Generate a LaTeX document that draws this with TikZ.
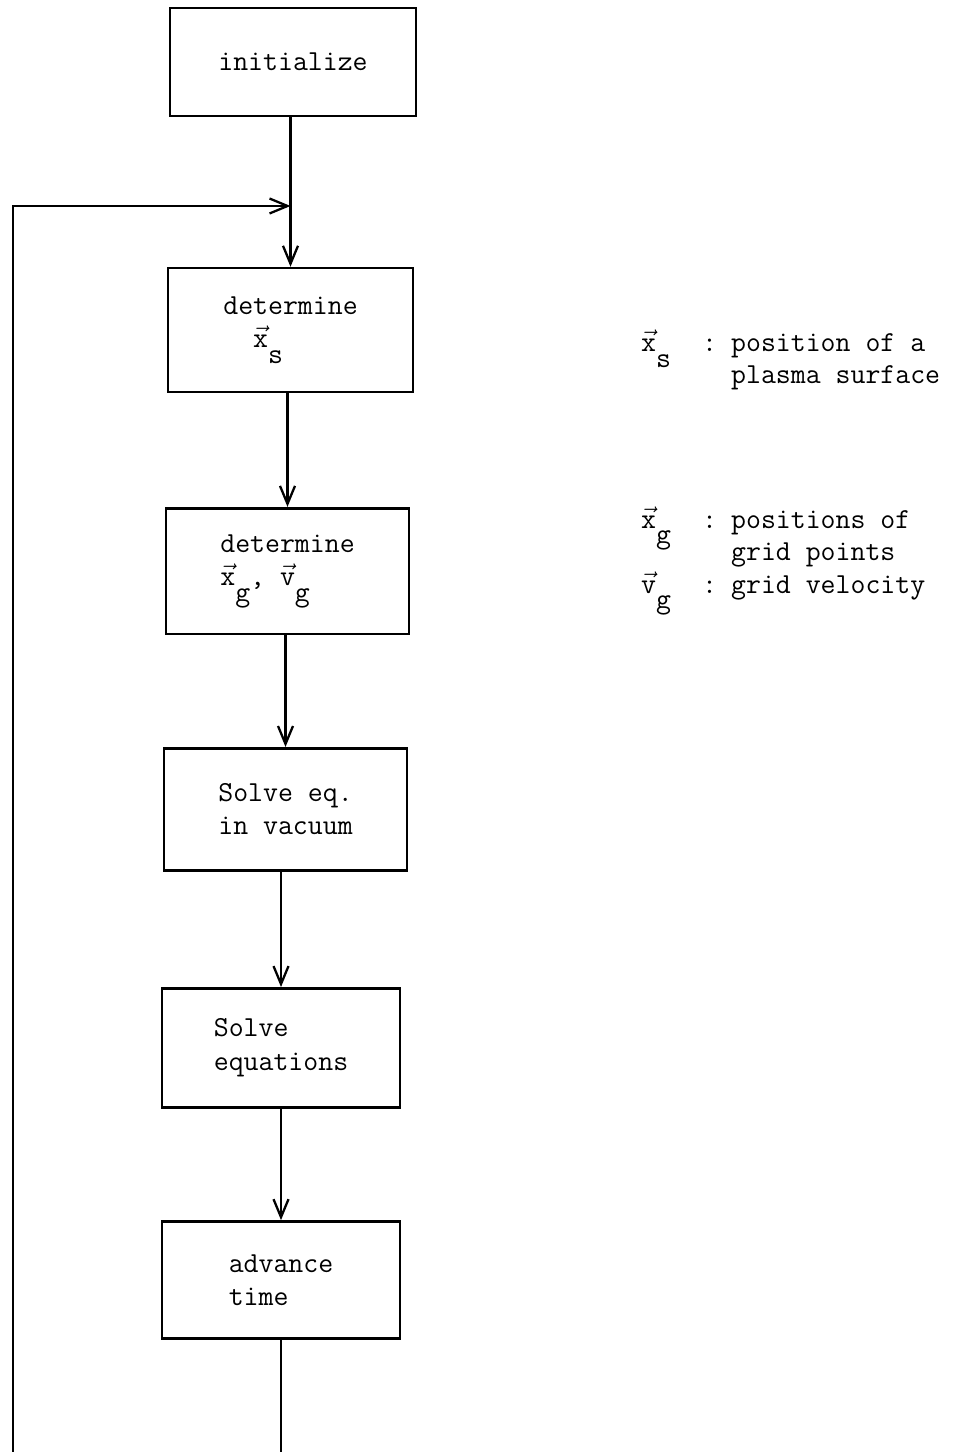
\documentclass[tikz,border=0pt]{standalone}
\usepackage{fontspec}
\usepackage{tikz}
\usetikzlibrary{positioning}
\usetikzlibrary{arrows.meta}
\newcommand{\vsub}[2]{$\vec{\mbox{#1}}$\raisebox{-0.32cm}{#2}}
\tikzset{block/.style={%
        rectangle,
        draw=black,
        line width=1.5pt,
        align=left,
        font=\fontsize{16.5}{19}\selectfont\ttfamily
    }}
\tikzset{legend/.style={%
        anchor=base west,
        inner sep=0pt,
        font=\fontsize{16.5}{19}\selectfont\ttfamily
    }}

\begin{document}
\begin{tikzpicture}[x=0.02cm,y=-0.02cm,line width=1.3pt,
    >={Straight Barb[length=3.6mm,width=3mm]}]
    \useasboundingbox (0,0) rectangle (957,1452);
    \clip (0,0) rectangle (957,1452);
    \node [block,minimum width=4.92cm,minimum height=2.16cm] (init) at (293,62) {initialize};
    \node [block,minimum width=4.9cm,minimum height=2.48cm] (xs) [below=2.99cm of init,xshift=-0.05cm]
        {determine\\~~\vsub{x}{s}};
    \node [block,minimum width=4.86cm,minimum height=2.52cm] (xg) [below=2.27cm of xs,xshift=-0.06cm]
        {determine\\\vsub{x}{g}, \vsub{v}{g}};
    \node [block,minimum width=4.86cm,minimum height=2.44cm] (vac) [below=2.23cm of xg,xshift=-0.04cm]
        {Solve eq.\\in vacuum};
    \node [block,minimum width=4.76cm,minimum height=2.38cm] (eqs) [below=2.31cm of vac,xshift=-0.09cm]
        {Solve\\equations};
    \node [block,minimum width=4.76cm,minimum height=2.34cm] (adv) [below=2.23cm of eqs]
        {advance\\time};
    % loop back
    \coordinate (join) at (xs.north |- 0,206);
    \coordinate (loopbot) at (13,1490);
    \draw[->] (init.south -| xs.north) -- (xs.north);
    \draw[->] (xs.south -| xg.north) -- (xg.north);
    \draw[->] (xg.south -| vac.north) -- (vac.north);
    \draw[->] (vac.south -| eqs.north) -- (eqs.north);
    \draw[->] (eqs.south -| adv.north) -- (adv.north);
    \draw[->] (adv.south) -- (adv.south |- loopbot) -- (loopbot) -- (loopbot |- join) -- (join);
    % legend
    \node [legend] (symxs) at (640,352) {\vsub{x}{s}};
    \node [legend] (colxs) at (701,352) {:};
    \node [legend] (dxsa) at (730,352) {position of a};
    \node [legend] (dxsb) at (730,384) {plasma surface};
    \node [legend] (symxg) at (640,528) {\vsub{x}{g}};
    \node [legend] (colxg) at (701,528) {:};
    \node [legend] (dxga) at (730,528) {positions of};
    \node [legend] (dxgb) at (730,560) {grid points};
    \node [legend] (symvg) at (640,593) {\vsub{v}{g}};
    \node [legend] (colvg) at (701,593) {:};
    \node [legend] (dvg) at (730,593) {grid velocity};
\end{tikzpicture}
\end{document}
